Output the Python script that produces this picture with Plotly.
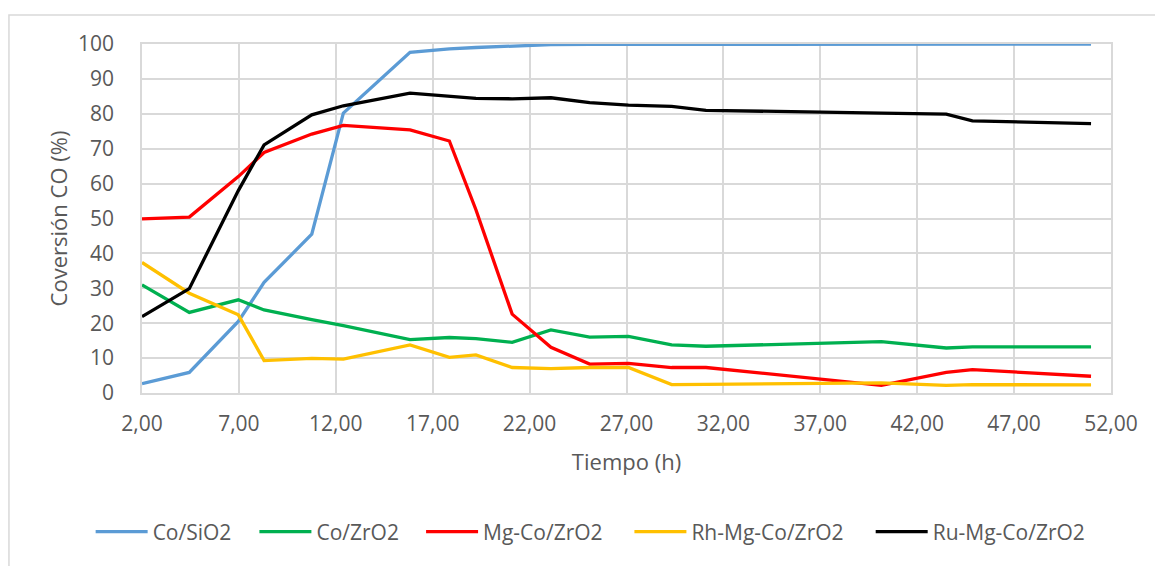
import plotly.graph_objects as go

# Sampling times (h) shared by all catalysts
tiempo = [2.00, 4.44, 6.97, 8.30, 10.76, 12.39, 15.83, 17.86, 19.23, 21.10,
          23.10, 25.10, 27.10, 29.33, 31.10, 40.15, 43.50, 44.85, 50.97]

# CO conversion (%) per catalyst
co_sio2 = [2.7, 5.9, 20.5, 31.7, 45.5, 80.2, 97.6, 98.6, 99.0, 99.5,
           99.8, 99.9, 99.9, 100.0, 99.9, 99.9, 99.9, 100.0, 100.0]
co_zro2 = [31.0, 23.1, 26.7, 23.8, 21.0, 19.3, 15.3, 15.9, 15.6, 14.5,
           18.1, 16.0, 16.2, 13.8, 13.4, 14.7, 12.9, 13.2, 13.2]
mg_co_zro2 = [49.9, 50.4, 62.0, 68.9, 74.2, 76.7, 75.4, 72.2, 52.5, 22.6,
              13.1, 8.3, 8.5, 7.3, 7.3, 2.2, 5.9, 6.7, 4.8]
rh_mg_co_zro2 = [37.4, 28.6, 22.4, 9.3, 9.9, 9.7, 13.8, 10.2, 10.9, 7.3,
                 7.0, 7.3, 7.3, 2.4, 2.5, 2.9, 2.2, 2.4, 2.3]
ru_mg_co_zro2 = [21.9, 29.9, 58.0, 71.1, 79.7, 82.3, 85.9, 85.1, 84.4, 84.3,
                 84.6, 83.2, 82.5, 82.1, 81.0, 80.2, 79.9, 78.0, 77.2]

series = [
    ("Co/SiO2", co_sio2, "#5b9bd5"),
    ("Co/ZrO2", co_zro2, "#00b050"),
    ("Mg-Co/ZrO2", mg_co_zro2, "#ff0000"),
    ("Rh-Mg-Co/ZrO2", rh_mg_co_zro2, "#ffc000"),
    ("Ru-Mg-Co/ZrO2", ru_mg_co_zro2, "#000000"),
]

# Left edge (paper fraction) of each legend entry in the bottom row
legend_x = [-0.053, 0.116, 0.288, 0.503, 0.752]

FONT = "Open Sans, Liberation Sans, sans-serif"
TXT = "#595959"
GRID = "#d9d9d9"

fig = go.Figure()
legend_layouts = {}
for i, (name, vals, color) in enumerate(series):
    key = "legend" if i == 0 else f"legend{i + 1}"
    fig.add_trace(go.Scatter(
        x=tiempo, y=vals, name=name, mode="lines",
        line=dict(color=color, width=3.3), legend=key,
    ))
    legend_layouts[key] = dict(
        orientation="h", x=legend_x[i], xanchor="left",
        y=-0.398, yanchor="middle",
        font=dict(family=FONT, size=21, color=TXT),
        itemwidth=52, bgcolor="rgba(0,0,0,0)",
    )

fig.update_layout(
    width=1155, height=566,
    margin=dict(l=142, r=44, t=44, b=173),
    paper_bgcolor="white", plot_bgcolor="white",
    separators=",.",
    font=dict(family=FONT, color=TXT, size=21),
    showlegend=True,
    **legend_layouts,
)

fig.update_xaxes(
    range=[2, 52], tick0=2, dtick=5, tickformat=".2f",
    showgrid=True, gridcolor=GRID, gridwidth=1.5,
    showline=True, linecolor=GRID, linewidth=1.5, mirror=True,
    zeroline=False, ticks="", ticklabelstandoff=11,
    tickfont=dict(size=21, color=TXT),
    title=dict(text="Tiempo (h)", font=dict(size=22, color=TXT), standoff=19),
)
fig.update_yaxes(
    range=[0, 100], dtick=10,
    showgrid=True, gridcolor=GRID, gridwidth=1.5,
    showline=True, linecolor=GRID, linewidth=1.5, mirror=True,
    zeroline=False, ticks="", ticklabelstandoff=22,
    tickfont=dict(size=21, color=TXT),
    title=dict(text="Coversión CO (%)", font=dict(size=22, color=TXT), standoff=4),
)

# Chart-area frame
fig.add_shape(
    type="rect", xref="paper", yref="paper",
    x0=-0.1373, x1=1.06, y0=-0.52, y1=1.0831,
    line=dict(color=GRID, width=1.5), fillcolor="rgba(0,0,0,0)", layer="below",
)

fig.write_html("out.html")
